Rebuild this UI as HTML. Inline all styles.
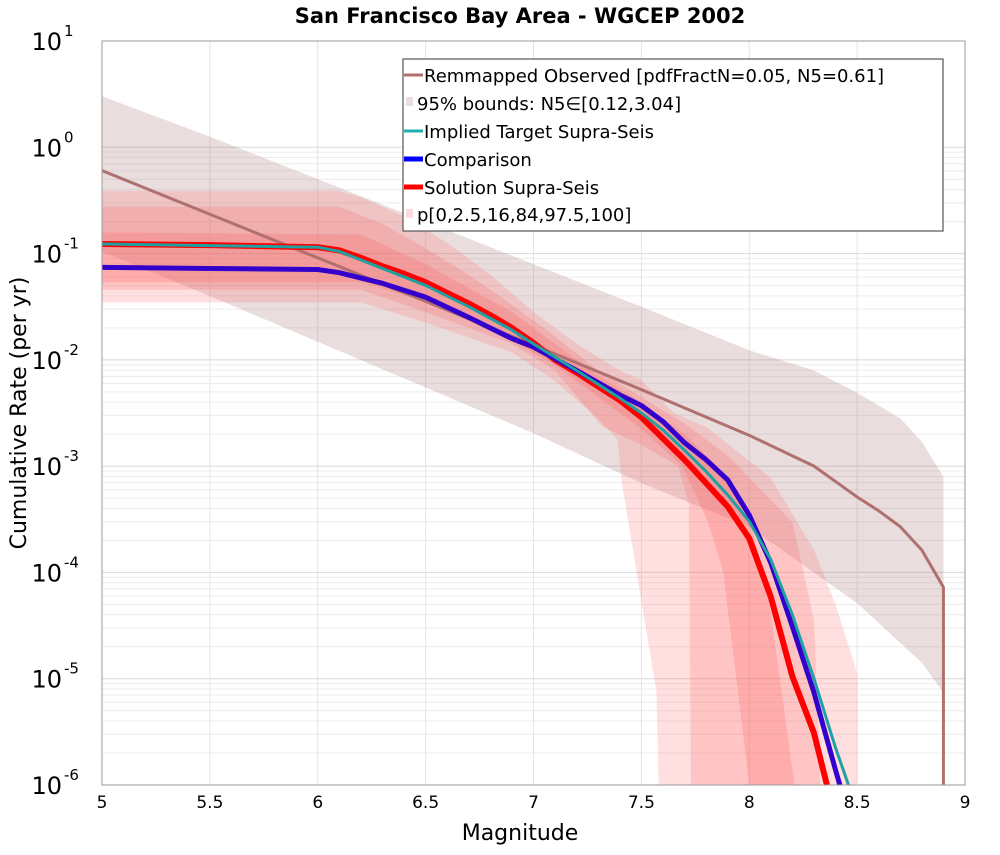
<!DOCTYPE html>
<html><head><meta charset="utf-8"><style>
body{margin:0;background:#fff;width:1000px;height:850px;overflow:hidden}
svg text{font-family:"DejaVu Sans","Liberation Sans",sans-serif}
</style></head><body>
<svg id="chart" width="1000" height="850" xmlns="http://www.w3.org/2000/svg">
<text x="520" y="23" text-anchor="middle" font-size="21" font-weight="bold">San Francisco Bay Area - WGCEP 2002</text>
<g id="grid"></g>
<g id="bands"></g>
<g id="lines"></g>
<rect x="102" y="41" width="863" height="744" fill="none" stroke="#999" stroke-width="1"/>
<g id="axes"></g>
<text x="520" y="840" text-anchor="middle" font-size="22">Magnitude</text>
<text transform="translate(26,413) rotate(-90)" text-anchor="middle" font-size="22">Cumulative Rate (per yr)</text>
<g>
<rect x="403" y="59" width="540" height="172" fill="#fff" stroke="#555" stroke-width="1.2"/>
<g><line x1="404" y1="75" x2="423" y2="75" stroke="#b07070" stroke-width="3"/><text x="424" y="82" font-size="18">Remmapped Observed [pdfFractN=0.05, N5=0.61]</text></g>
<g><rect x="406" y="97" width="7" height="9" fill="#eadddd"/><text x="417" y="110" font-size="18">95% bounds: N5∈[0.12,3.04]</text></g>
<g><line x1="404" y1="131" x2="423" y2="131" stroke="#20b0b0" stroke-width="3"/><text x="424" y="138" font-size="18">Implied Target Supra-Seis</text></g>
<g><line x1="404" y1="159" x2="423" y2="159" stroke="#0000ff" stroke-width="5"/><text x="424" y="166" font-size="18">Comparison</text></g>
<g><line x1="404" y1="187" x2="423" y2="187" stroke="#ff0000" stroke-width="5"/><text x="424" y="194" font-size="18">Solution Supra-Seis</text></g>
<g><rect x="406" y="209" width="7" height="9" fill="#ffdcdc"/><text x="417" y="221" font-size="18">p[0,2.5,16,84,97.5,100]</text></g>
</g>
</svg>
<script>
const obsM=[5,5.5,6,6.5,7,7.5,8,8.3,8.5,8.6,8.7,8.8,8.9,8.9];
const obsV=[-0.22,-0.63,-1.04,-1.45,-1.86,-2.28,-2.71,-3.0,-3.29,-3.42,-3.57,-3.79,-4.14,-6];
const obsUpM=[5,5.5,6,6.5,7,7.5,8,8.3,8.5,8.7,8.8,8.9];
const obsUpV=[0.48,0.1,-0.3,-0.7,-1.1,-1.5,-1.91,-2.1,-2.31,-2.55,-2.77,-3.1];
const obsLoM=[5,5.5,6,6.5,7,7.5,8,8.5,8.8,8.9];
const obsLoV=[-0.98,-1.4,-1.83,-2.26,-2.69,-3.16,-3.57,-4.29,-4.85,-5.13];
const u100M=[5,6.1,6.2,6.4,6.6,6.8,7.0,7.2,7.4,7.5,7.65,7.8,8.0,8.1,8.3,8.4,8.5,8.5];
const u100V=[-0.41,-0.41,-0.47,-0.65,-0.9,-1.2,-1.55,-1.85,-2.1,-2.19,-2.5,-2.63,-2.95,-3.11,-3.79,-4.3,-4.95,-6];
const l0M=[5,6.2,6.5,6.9,7.1,7.3,7.39,7.41,7.57,7.58];
const l0V=[-1.46,-1.46,-1.65,-1.93,-2.2,-2.55,-2.75,-3.16,-5.13,-6];
const u975M=[5,6.1,6.3,6.5,6.7,6.9,7.1,7.3,7.5,7.7,7.9,8.1,8.2,8.3,8.33];
const u975V=[-0.56,-0.56,-0.72,-0.95,-1.2,-1.48,-1.78,-2.1,-2.35,-2.6,-2.9,-3.32,-3.53,-4.45,-6];
const l25M=[5,6.2,6.5,6.9,7.1,7.32,7.5,7.67,7.72,7.73];
const l25V=[-1.34,-1.34,-1.55,-1.85,-2.1,-2.63,-2.8,-3.0,-3.35,-6];
const u84M=[5,6.2,6.5,6.9,7.1,7.3,7.5,7.7,7.9,8.0,8.08,8.21];
const u84V=[-0.8,-0.82,-1.1,-1.55,-1.85,-2.15,-2.4,-2.7,-3.1,-3.5,-4.1,-6];
const l16M=[5,6.2,6.5,6.9,7.1,7.3,7.5,7.69,7.81,7.88,8.0];
const l16V=[-1.27,-1.27,-1.45,-1.82,-2.05,-2.35,-2.65,-3.0,-3.53,-4.0,-6];
const solM=[5,5.5,6,6.1,6.2,6.3,6.4,6.5,6.6,6.7,6.8,6.9,7.0,7.1,7.2,7.3,7.4,7.5,7.6,7.7,7.8,7.9,8.0,8.1,8.2,8.3,8.36];
const solV=[-0.91,-0.92,-0.94,-0.97,-1.04,-1.12,-1.19,-1.27,-1.37,-1.47,-1.58,-1.7,-1.84,-2.0,-2.12,-2.25,-2.38,-2.54,-2.74,-2.94,-3.16,-3.38,-3.68,-4.23,-4.98,-5.51,-6];
const cmpM=[5,5.5,6,6.1,6.3,6.5,6.7,6.9,7.0,7.2,7.4,7.5,7.6,7.7,7.8,7.9,8.0,8.1,8.2,8.3,8.4,8.42];
const cmpV=[-1.13,-1.14,-1.15,-1.18,-1.28,-1.41,-1.6,-1.8,-1.88,-2.1,-2.33,-2.43,-2.58,-2.78,-2.94,-3.13,-3.46,-3.91,-4.51,-5.13,-5.86,-6];
const tgtM=[5,6,6.1,6.3,6.5,6.7,6.9,7.0,7.2,7.4,7.5,7.6,7.7,7.8,7.9,8.0,8.1,8.2,8.3,8.4,8.46];
const tgtV=[-0.91,-0.94,-0.98,-1.14,-1.3,-1.5,-1.72,-1.85,-2.1,-2.36,-2.5,-2.66,-2.85,-3.05,-3.27,-3.52,-3.88,-4.4,-5.0,-5.65,-6];
const xTicks=["5","5.5","6","6.5","7","7.5","8","8.5","9"];
const yTickExp=["1","0","-1","-2","-3","-4","-5","-6"];

const NS="http://www.w3.org/2000/svg";
const X=m=>102+(m-5)*215.75;
const Y=l=>41+(1-Math.max(l,-6))*106.2857;
function mk(tag,attrs,parent){const e=document.createElementNS(NS,tag);for(const k in attrs)e.setAttribute(k,attrs[k]);parent.appendChild(e);return e;}
const grid=document.getElementById('grid'),bands=document.getElementById('bands'),lines=document.getElementById('lines'),axes=document.getElementById('axes');
// grid
for(let d=1;d>=-6;d--){for(let k=1;k<=9;k++){const l=d+Math.log10(k);if(l>1||(d==-6&&k>1))continue;if(d-1<-6&&k>1){}
 const yy=Y(d-1+Math.log10(k));if(d-1<-6)continue;
 const ln=mk('line',{x1:102,x2:965,y1:yy,y2:yy,stroke:k==1?'#d8d8d8':'#ececec','stroke-width':1},grid);
 
 }}
for(let i=1;i<8;i++){const xx=X(5+i*0.5);const ln=mk('line',{x1:xx,x2:xx,y1:41,y2:785,stroke:'#e4e4e4','stroke-width':1},grid);
 
 }
function band(um,uv,lm,lv,fill,name){let d='M'+um.map((m,i)=>X(m)+','+Y(uv[i])).join('L');
 d+='L'+X(um[um.length-1])+','+Y(-6);
 d+='L'+X(lm[lm.length-1])+','+Y(-6);
 for(let i=lm.length-1;i>=0;i--)d+='L'+X(lm[i])+','+Y(lv[i]);d+='Z';
 const p=mk('path',{d:d,fill:fill},bands);
 
 }
function bandObs(){let d='M'+obsUpM.map((m,i)=>X(m)+','+Y(obsUpV[i])).join('L');
 for(let i=obsLoM.length-1;i>=0;i--)d+='L'+X(obsLoM[i])+','+Y(obsLoV[i]);d+='Z';
 const p=mk('path',{d:d,fill:'rgba(160,100,100,0.22)'},bands);
 
 }
bandObs();
band(u100M,u100V,l0M,l0V,'rgba(255,110,110,0.22)','band-p0-p100');
band(u975M,u975V,l25M,l25V,'rgba(255,90,90,0.2)','band-p2.5-p97.5');
band(u84M,u84V,l16M,l16V,'rgba(255,80,80,0.2)','band-p16-p84');
function line(ms,vs,col,w,name){const p=mk('polyline',{points:ms.map((m,i)=>X(m)+','+Y(vs[i])).join(' '),fill:'none',stroke:col,'stroke-width':w,'stroke-linejoin':'round'},lines);
 
 }
line(obsM,obsV,'#b07070',3,'observed-line');
line(solM,solV,'#ff0000',6,'solution-line');
line(cmpM,cmpV,'#3300cc',5,'comparison-line');
line(tgtM,tgtV,'#20a0a0',3,'target-line');
// ticks
xTicks.forEach((t,i)=>{const xx=X(5+i*0.5);const tx=mk('text',{x:xx,y:808,'text-anchor':'middle','font-size':17},axes);tx.textContent=t;
 
 });
yTickExp.forEach((e,i)=>{const yy=Y(1-i);const tx=mk('text',{x:62,y:yy+9,'text-anchor':'end','font-size':24},axes);tx.textContent='10';
 
 
 const sp=mk('text',{x:64,y:yy-5,'font-size':15},axes);sp.textContent=e;
 
 });
</script>
</body></html>
